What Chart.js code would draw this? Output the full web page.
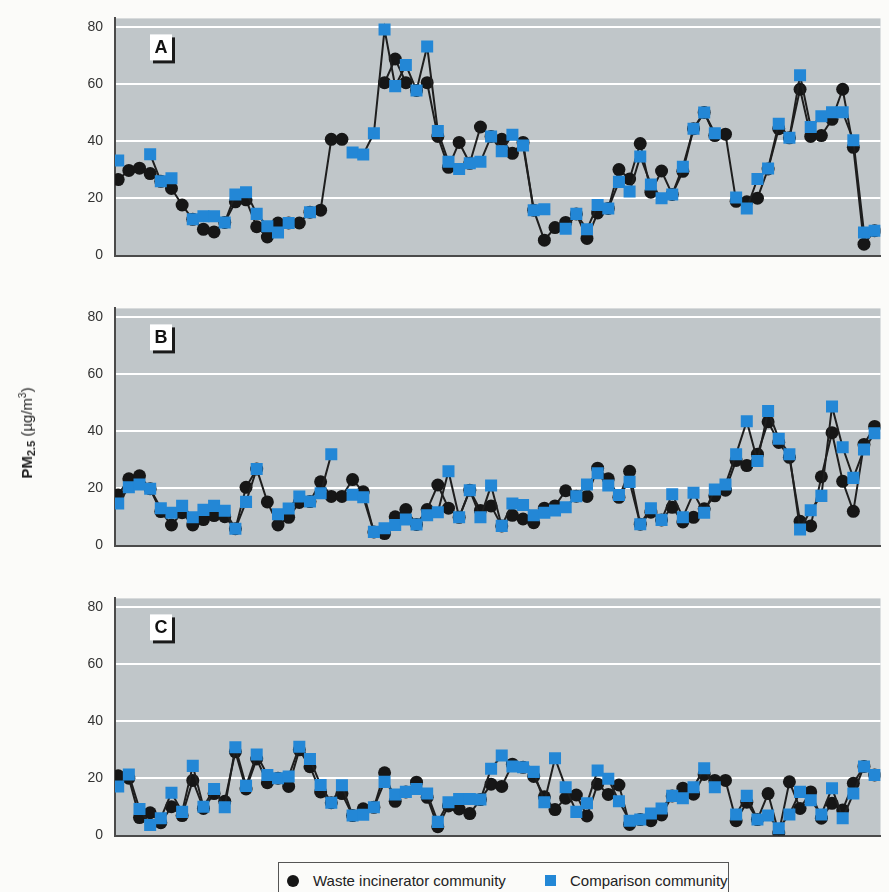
<!DOCTYPE html>
<html>
<head>
<meta charset="utf-8">
<script src="https://cdn.jsdelivr.net/npm/chart.js@4.4.1/dist/chart.umd.min.js"></script>
<style>
  html, body { margin: 0; padding: 0; background: #fbfbf9; width: 889px; height: 892px; overflow: hidden; }
  .panel { position: absolute; left: 0; width: 889px; height: 278px; }
  #yTitle {
    position: absolute; left: 27px; top: 433px;
    transform: translate(-50%, -50%) rotate(-90deg);
    white-space: nowrap; color: #222;
    font-family: "Liberation Sans Narrow", "Liberation Sans", Arial, sans-serif;
    font-stretch: condensed; font-size: 15px;
  }
  #yTitle b { font-weight: bold; }
  #yTitle sub { font-size: 11px; font-weight: bold; vertical-align: -3px; }
  #yTitle sup { font-size: 10px; vertical-align: 6px; }
  #legend {
    position: absolute; left: 278px; top: 862px; width: 451px; height: 40px;
    border: 1.5px solid #555; box-sizing: border-box;
    font-family: "Liberation Sans", Arial, sans-serif; font-size: 15px; color: #222;
  }
  #legend .dot { position: absolute; left: 8px; top: 12px; width: 12px; height: 12px; border-radius: 50%; background: #161616; }
  #legend .sq { position: absolute; left: 266px; top: 12px; width: 11px; height: 11px; background: #2387d6; }
  #legend .lbl { position: absolute; top: 9px; white-space: nowrap; }
</style>
</head>
<body>
<div class="panel" style="top:-2px"><canvas id="panelA"></canvas></div>
<div class="panel" style="top:288px"><canvas id="panelB"></canvas></div>
<div class="panel" style="top:578px"><canvas id="panelC"></canvas></div>
<div id="yTitle"><b>PM<sub>2.5</sub></b> (µg/m<sup>3</sup>)</div>
<div id="legend">
  <span class="dot"></span><span class="lbl" style="left:34px">Waste incinerator community</span>
  <span class="sq"></span><span class="lbl" style="left:291px">Comparison community</span>
</div>
<script>
// jours d'échantillonnage (ordre sur l'axe horizontal)
const sampleDays = Array.from({ length: 72 }, (_, i) => i + 1);
const yTicks = [0, 20, 40, 60, 80];

// PM2.5 (µg/m3), panneau A
const incineratorA = [26.6, 29.8, 30.6, 28.7, 26.0, 23.5, 17.7, 12.7, 9.2, 8.3,
  11.6, 18.8, 19.5, 10.1, 6.5, 11.4, 11.4, 11.4, 15.2, 15.9,
  40.7, 40.7, null, null, null, 60.5, 68.8, 60.5, 57.8, 60.5,
  41.7, 30.9, 39.6, 32.3, 45.0, 41.7, 40.7, 35.8, 39.6, 15.9,
  5.4, 9.8, 11.6, 14.6, 6.0, 14.9, 16.5, 30.1, 26.8, 39.2,
  22.2, 29.6, 21.4, 29.5, 44.4, 50.1, 42.0, 42.5, 19.0, 18.8,
  20.1, 30.3, 44.4, 41.2, 58.2, 41.7, 42.0, 47.7, 58.2, 37.9,
  4.0, 8.7];
const comparisonA = [33.3, null, null, 35.5, 26.0, 27.1, null, 12.7, 13.8, 13.8,
  11.6, 21.4, 22.2, 14.6, 10.3, 8.1, 11.4, null, 15.2, null,
  null, null, 36.1, 35.4, 42.8, 79.1, 59.3, 66.7, 57.8, 73.2,
  43.6, 32.8, 30.3, 32.3, 32.8, 41.7, 36.5, 42.3, 38.5, 15.9,
  16.2, null, 9.4, 14.6, 9.2, 17.7, 16.5, 25.8, 22.4, 34.7,
  24.9, 20.1, 21.4, 31.1, 44.4, 50.1, 42.8, null, 20.3, 16.5,
  26.8, 30.5, 46.1, 41.2, 63.1, 45.0, 48.8, 50.2, 50.2, 40.4,
  8.1, 8.7];

// panneau B
const incineratorB = [17.7, 23.4, 24.4, 19.9, 11.9, 7.2, 11.5, 7.2, 9.1, 10.5,
  10.1, 5.9, 20.4, 26.8, 15.3, 7.2, 9.9, 15.1, 15.4, 22.3,
  17.2, 17.2, 23.1, 18.8, 4.8, 4.2, 10.1, 12.6, 7.4, 12.6,
  21.2, 13.1, 9.9, 19.4, 12.3, 13.9, 6.9, 10.6, 9.3, 8.0,
  13.1, 13.9, 19.2, 17.3, 17.2, 27.1, 23.4, 16.9, 26.0, 7.5,
  11.7, 9.0, 13.4, 8.3, 9.9, 12.9, 17.4, 19.4, 29.8, 28.0,
  32.0, 43.3, 36.1, 30.9, 8.5, 6.9, 24.1, 39.5, 22.5, 12.0,
  35.4, 41.7];
const comparisonB = [14.7, 20.4, 21.4, 19.9, 13.1, 11.5, 13.9, 9.9, 12.5, 13.9,
  12.2, 5.9, 15.3, 26.8, null, 11.0, 13.0, 17.2, 15.4, 18.3,
  32.0, null, 17.8, 16.9, 4.8, 6.1, 7.2, 9.1, 7.4, 10.6,
  11.7, 26.0, 9.9, 19.4, 9.9, 21.0, 6.9, 14.7, 14.2, 10.6,
  11.5, 12.3, 13.4, 17.3, 21.4, 25.3, 21.0, 17.7, 22.3, 7.5,
  13.1, 9.0, 18.0, 9.9, 18.5, 11.5, 19.6, 21.4, 32.0, 43.5,
  29.6, 47.1, 37.4, 32.0, 5.6, 12.4, 17.4, 48.7, 34.4, 23.7,
  33.6, 39.3];

// panneau C
const incineratorC = [20.9, 20.1, 6.3, 8.0, 4.5, 10.1, 7.0, 19.3, 9.5, 14.7,
  12.0, 29.3, 16.3, 26.8, 18.5, 20.1, 17.2, 30.0, 24.1, 15.3,
  11.5, 14.7, 7.0, 9.4, 9.9, 22.0, 12.0, 15.3, 18.7, 13.4,
  3.1, 10.4, 9.3, 7.7, 12.6, 18.0, 17.2, 25.0, 23.9, 20.7,
  13.6, 9.1, 13.1, 14.2, 6.9, 18.0, 14.4, 17.7, 3.9, 5.6,
  5.2, 7.2, 13.9, 16.6, 14.5, 21.4, 19.3, 19.3, 5.2, 11.7,
  5.6, 14.7, 0.9, 18.8, 9.5, 15.3, 6.1, 11.3, 9.0, 18.3,
  24.2, 21.2];
const comparisonC = [17.2, 21.4, 9.3, 3.7, 6.1, 15.0, 8.3, 24.4, 10.1, 16.3,
  9.9, 30.9, 17.4, 28.4, 21.2, 20.1, 20.7, 31.1, 26.8, 17.7,
  11.5, 17.6, 7.0, 7.3, 9.9, 18.8, 14.4, 15.3, 16.3, 14.7,
  4.8, 11.7, 12.8, 12.8, 12.6, 23.4, 28.0, 24.2, 23.9, 22.3,
  11.7, 27.1, 16.9, 8.3, 11.3, 22.8, 19.9, 12.0, 5.2, 5.6,
  7.7, 9.5, 13.9, 13.1, 16.9, 23.6, 16.9, null, 7.4, 13.9,
  5.6, 7.0, 2.6, 7.4, 15.3, 12.4, 7.4, 16.6, 6.1, 14.7,
  24.2, 21.2];

const COLORS = {
  plot: "rgb(192, 198, 201)",
  grid: "#ffffff",
  axis: "#4a4a4a",
  line: "#1e1e1e",
  dot: "#161616",
  square: "#2387d6",
  text: "#333333"
};

function toPoints(values) {
  return values.map((v, i) => ({ x: sampleDays[i], y: v }));
}

// fond gris de la zone de tracé
const plotBackground = {
  id: 'plotBackground',
  beforeDraw(chart) {
    const { ctx, chartArea: a } = chart;
    ctx.save();
    ctx.fillStyle = COLORS.plot;
    ctx.fillRect(a.left, a.top, a.right - a.left, a.bottom - a.top);
    ctx.restore();
  }
};

// étiquette de panneau (A, B, C) avec ombre portée
const panelTag = {
  id: 'panelTag',
  afterDatasetsDraw(chart, args, opts) {
    const { ctx, chartArea: a } = chart;
    const x = a.left + 35, y = a.top + 16, w = 22, h = 26;
    ctx.save();
    ctx.fillStyle = '#1a1a1a';
    ctx.fillRect(x + 3, y + 3, w, h);
    ctx.fillStyle = '#ffffff';
    ctx.fillRect(x, y, w, h);
    ctx.fillStyle = '#111';
    ctx.font = "bold 18px 'Liberation Sans', Arial, sans-serif";
    ctx.textAlign = 'center';
    ctx.textBaseline = 'middle';
    ctx.fillText(opts.letter, x + w / 2, y + h / 2 + 1);
    ctx.restore();
  }
};

function makePanel(id, letter, incinerator, comparison) {
  const ctx = document.getElementById(id);
  return new Chart(ctx, {
    type: 'line',
    data: {
      datasets: [{
        label: "Comparison community",
        data: toPoints(comparison),
        borderColor: COLORS.line,
        borderWidth: 2,
        pointStyle: 'rect',
        pointRadius: 8.5,
        pointBackgroundColor: COLORS.square,
        pointBorderWidth: 0,
        spanGaps: false,
        order: 0
      }, {
        label: "Waste incinerator community",
        data: toPoints(incinerator),
        borderColor: COLORS.line,
        borderWidth: 2,
        pointStyle: 'circle',
        pointRadius: 6.5,
        pointBackgroundColor: COLORS.dot,
        pointBorderWidth: 0,
        spanGaps: false,
        order: 1
      }]
    },
    options: {
      responsive: true,
      maintainAspectRatio: false,
      animation: false,
      layout: { padding: { left: 0, right: 0, top: 10, bottom: 10 } },
      scales: {
        x: {
          type: 'linear',
          min: 0.7,
          max: 72.55,
          ticks: { display: false },
          grid: { display: false, drawTicks: false },
          border: { display: true, color: COLORS.axis, width: 2 }
        },
        y: {
          min: 0,
          max: 83,
          afterBuildTicks: axis => { axis.ticks = yTicks.map(v => ({ value: v })); },
          afterFit: axis => { axis.width = 115; },
          ticks: {
            padding: 12,
            color: COLORS.text,
            font: { family: "'Liberation Sans', Arial, sans-serif", size: 14 }
          },
          grid: {
            color: c => (c.tick && c.tick.value === 0) ? 'rgba(0,0,0,0)' : COLORS.grid,
            lineWidth: 2,
            drawTicks: false
          },
          border: { color: COLORS.axis, width: 2 }
        }
      },
      plugins: {
        legend: { display: false },
        tooltip: { enabled: false },
        panelTag: { letter: letter }
      }
    },
    plugins: [plotBackground, panelTag]
  });
}

document.addEventListener("DOMContentLoaded", function () {
  makePanel('panelA', 'A', incineratorA, comparisonA);
  makePanel('panelB', 'B', incineratorB, comparisonB);
  makePanel('panelC', 'C', incineratorC, comparisonC);
});
</script>
</body>
</html>
